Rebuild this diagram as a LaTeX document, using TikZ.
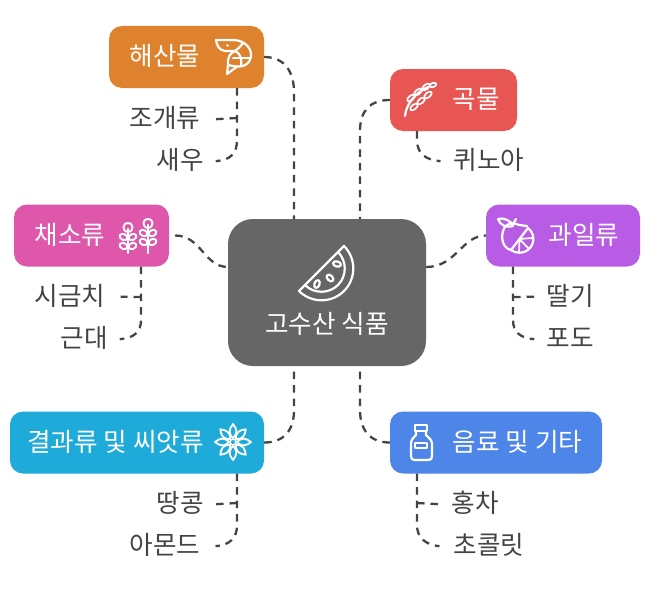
\documentclass[tikz,border=0pt]{standalone}
\usepackage{fontspec}
\setmainfont{Noto Sans CJK KR}
\usetikzlibrary{calc}
\definecolor{cCenter}{HTML}{666666}
\definecolor{cSea}{HTML}{DF822E}
\definecolor{cGrain}{HTML}{E85654}
\definecolor{cFruit}{HTML}{B95CE5}
\definecolor{cVeg}{HTML}{DF57AB}
\definecolor{cNut}{HTML}{1EABDA}
\definecolor{cDrink}{HTML}{4D86E8}
\definecolor{cLine}{HTML}{444444}
\tikzset{
  box/.style={draw=none,rounded corners=13,inner sep=0pt},
  lab/.style={inner sep=0pt,text height=21pt,text depth=2pt,yshift=-1.2pt,font=\fontsize{25.6}{25.6}\selectfont,text=#1},
  lab/.default={cLine},
  wlab/.style={lab=white},
  conn/.style={draw=cLine,line width=2.3pt,dash pattern=on 7.5pt off 6pt},
  ico/.style={draw=white,line width=2.2pt,line cap=round,line join=round,fill=none},
}
\begin{document}
\begin{tikzpicture}[x=1pt,y=-1pt]
\useasboundingbox (0,0) rectangle (660,594);
% boxes
\node[box,fill=cCenter,rounded corners=25,minimum width=198pt,minimum height=147pt] (center) at (327,292.5) {};
\node[box,fill=cSea,minimum width=155pt,minimum height=62pt] (sea) at (186.5,57) {};
\node[box,fill=cGrain,minimum width=127pt,minimum height=62pt] (grain) at (453.5,100) {};
\node[box,fill=cFruit,minimum width=154pt,minimum height=62pt] (fruit) at (563,235.5) {};
\node[box,fill=cVeg,minimum width=155pt,minimum height=62pt] (veg) at (91.5,235.5) {};
\node[box,fill=cNut,minimum width=254pt,minimum height=62pt] (nut) at (137,442.5) {};
\node[box,fill=cDrink,minimum width=212pt,minimum height=62pt] (drink) at (496,442.5) {};
% labels
\node[wlab] (tCenter) at (327,323) {고수산 식품};
\node[wlab] (tSea) at (165,54.5) {해산물};
\node[wlab] (tGrain) at (476,98) {곡물};
\node[wlab] (tFruit) at (584,233.5) {과일류};
\node[wlab] (tVeg) at (70,233.5) {채소류};
\node[wlab] (tNut) at (115.5,440.5) {결과류 및 씨앗류};
\node[wlab] (tDrink) at (517.5,440.5) {음료 및 기타};
\node[lab] (l1) at (165,116.5) {조개류};
\node[lab] (l2) at (180,158.5) {새우};
\node[lab] (l3) at (489,158.5) {퀴노아};
\node[lab] (l4) at (570,294.5) {딸기};
\node[lab] (l5) at (570,336.5) {포도};
\node[lab] (l6) at (70,294.5) {시금치};
\node[lab] (l7) at (84,336.5) {근대};
\node[lab] (l8) at (180,501.5) {땅콩};
\node[lab] (l9) at (165,543.5) {아몬드};
\node[lab] (l10) at (475,501.5) {홍차};
\node[lab] (l11) at (489,543.5) {초콜릿};
% waypoints
\coordinate (c1) at (294,92);
\coordinate (c2) at (360,131);
\coordinate (c3) at (294,410);
\coordinate (c4) at (360,410);
% main connectors
\draw[conn] (sea.east) .. controls +(22,0) and +(0,-18) .. (c1) -- (center.north -| c1);
\draw[conn] (grain.west) .. controls +(-20,0) and +(0,-20) .. (c2) -- (center.north -| c2);
\draw[conn] (nut.east) .. controls +(20,0) and +(0,20) .. (c3) -- (center.south -| c3);
\draw[conn] (drink.west) .. controls +(-20,0) and +(0,20) .. (c4) -- (center.south -| c4);
\draw[conn] (veg.east) ++(6,0) coordinate (v0) (v0) .. controls +(26,0) and +(-24,0) .. (228,267);
\draw[conn] (center.east |- 0,267) .. controls +(30,0) and +(-24,0) .. (fruit.west);
% leaf connectors
\coordinate (s1) at (237,88);
\coordinate (s2) at (237,118);
\draw[conn] (sea.south -| s1) -- (237,140) .. controls (237,154) and (230,160) .. ($(l2.east)+(12,1.5)$);
\draw[conn] (s2) -- ($(l1.east)+(15,1.5)$);
\coordinate (g1) at (417,131);
\draw[conn] (grain.south -| g1) -- (417,140) .. controls (417,154) and (426,160) .. ($(l3.west)+(-13,1.5)$);
\coordinate (f1) at (513,266);
\coordinate (f2) at (513,297);
\draw[conn] (fruit.south -| f1) -- (513,320) .. controls (513,332) and (520,338) .. ($(l5.west)+(-12,1.5)$);
\draw[conn] (f2) -- ($(l4.west)+(-12,1)$);
\coordinate (v1) at (141,266);
\coordinate (v2) at (141,297);
\draw[conn] (veg.south -| v1) -- (141,320) .. controls (141,332) and (134,338) .. ($(l7.east)+(12,1.5)$);
\draw[conn] (v2) -- ($(l6.east)+(15,1)$);
\coordinate (n1) at (237,473);
\coordinate (n2) at (237,503);
\draw[conn] (nut.south -| n1) -- (237,525) .. controls (237,538) and (230,545) .. ($(l9.east)+(15,1.5)$);
\draw[conn] (n2) -- ($(l8.east)+(12,1.5)$);
\coordinate (d1) at (417,473);
\coordinate (d2) at (417,503);
\draw[conn] (drink.south -| d1) -- (417,525) .. controls (417,538) and (426,545) .. ($(l11.west)+(-14,1.5)$);
\draw[conn] (d2) -- ($(l10.west)+(-12,1.5)$);
% watermelon
\draw[ico] (344,246) -- (299,291) .. controls (311.4,303.4) and (331.6,303.4) .. (344,291) .. controls (356.4,278.6) and (356.4,258.4) .. cycle;
\draw[ico] (338,252) .. controls (347,261) and (347,276) .. (338,285) .. controls (329,294) and (314,294) .. (305,285);
\draw[ico,rotate around={-15:(337,264)}] (337,264) ellipse (4pt and 2.6pt);
\draw[ico,rotate around={-45:(330,278)}] (330,278) ellipse (4pt and 2.6pt);
\draw[ico,rotate around={70:(317,284)}] (317,284) ellipse (4pt and 2.6pt);
% shrimp
\draw[ico] (216,40) -- (233,40) .. controls (246,40) and (252,50) .. (251,56) .. controls (250,65) and (242,68) .. (233,66) -- (228,65) -- (227,74) -- (238,66);
\draw[ico] (216,40) .. controls (217,46) and (219,50) .. (225,51) -- (235,51) .. controls (230,53) and (227,58) .. (228,65);
\draw[ico] (235,51) .. controls (240,53) and (242,58) .. (241,66);
\draw[ico] (243,43) .. controls (240,47) and (238,49) .. (235,51);
\draw[ico] (233,58) -- (250,58);
\fill[white] (227.5,45.5) circle (1.3pt);
% grain
\draw[ico] (405,116) .. controls (406,104) and (416,92) .. (428,87);
\foreach \x/\y in {411/98,418/92,426/87}{
  \draw[ico,line width=1.7pt,rotate around={40:(\x,\y)}] (\x,\y) ellipse (4.5pt and 2.4pt);
}
\foreach \x/\y in {414/107,421/101,428/95}{
  \draw[ico,line width=1.7pt,rotate around={40:(\x,\y)}] (\x,\y) ellipse (4.5pt and 2.4pt);
}
\draw[ico,line width=1.7pt,rotate around={20:(433,85)}] (433,85) ellipse (3.5pt and 2pt);
% fruit
\draw[ico] (511,250) .. controls (500,248) and (500,230) .. (507,225) .. controls (512,222) and (516,224) .. (519,225) -- (527,226);
\draw[ico] (528,228) -- (511,250) .. controls (518,255) and (528,253) .. (532,245) .. controls (535,238) and (533,232) .. (528,228);
\draw[ico,line width=1.7pt] (519.5,239) -- (532,238) (519.5,239) -- (519,252) (519.5,239) -- (529,249);
\draw[ico] (498,219) .. controls (503,217) and (512,221) .. (513,226) .. controls (506,228) and (500,225) .. (498,219);
\draw[ico] (512,226) -- (516,219);
% veg sprigs
\foreach \cx/\ty in {128/224,148/220}{
  \draw[ico] (\cx,\ty+5) -- (\cx,253);
  \draw[ico,line width=1.9pt] (\cx,\ty+8) .. controls (\cx-7,\ty+7) and (\cx-5,\ty-2) .. (\cx,\ty-1) .. controls (\cx+5,\ty-2) and (\cx+7,\ty+7) .. cycle;
  \foreach \d in {13,22}{
    \draw[ico,line width=1.9pt,rotate around={-25:(\cx-4.5,\ty+\d)}] (\cx-4.5,\ty+\d) ellipse (4pt and 3pt);
    \draw[ico,line width=1.9pt,rotate around={25:(\cx+4.5,\ty+\d)}] (\cx+4.5,\ty+\d) ellipse (4pt and 3pt);
  }
}
% star flower
\foreach \a in {0,45,...,315}{
  \draw[ico,line width=1.8pt,rotate around={\a:(233,442)}] (233,438) .. controls (228,433) and (229,429) .. (233,424) .. controls (237,429) and (238,433) .. (233,438);
}
\draw[ico,line width=1.6pt] (233,442) circle (3pt);
% bottle
\draw[ico] (415,425) rectangle (427,431);
\draw[ico] (416,431) -- (416,435) .. controls (413,438) and (411,440) .. (411,444) -- (411,456) .. controls (411,459) and (412,460) .. (415,460) -- (428,460) .. controls (431,460) and (432,459) .. (432,456) -- (432,444) .. controls (432,440) and (429,438) .. (426,435) -- (426,431);
\draw[ico] (415,443) rectangle (427,448);
\end{tikzpicture}
\end{document}
